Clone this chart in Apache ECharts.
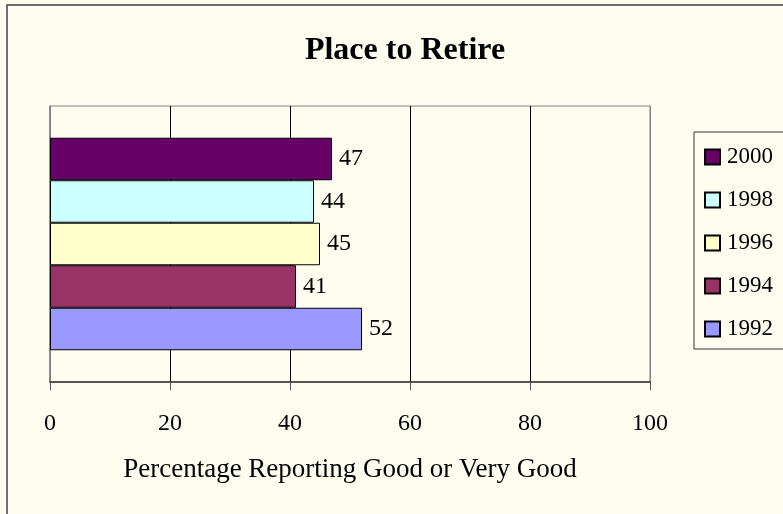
<!DOCTYPE html>
<html>
<head>
<meta charset="utf-8">
<script src="https://cdn.jsdelivr.net/npm/echarts@6/dist/echarts.min.js"></script>
<style>
  html, body { margin: 0; padding: 0; background: #fffdf0; }
  #chart { width: 783px; height: 514px; }
</style>
</head>
<body>
<div id="chart"></div>
<script>
  // data (top bar first)
  const years = ['2000', '1998', '1996', '1994', '1992']
  const values = [47, 44, 45, 41, 52]
  const colors = ['#660066', '#ccffff', '#ffffcc', '#993366', '#9999ff']
  const xTicks = { min: 0, max: 100, interval: 20 }

  const font = 'Liberation Serif'
  const chart = echarts.init(document.getElementById('chart'))

  const series = years.map((y, i) => ({
    name: y,
    type: 'bar',
    data: [values[i]],
    barGap: '0%',
    barCategoryGap: '23%',
    itemStyle: { color: colors[i], borderColor: '#000', borderWidth: 1 },
    label: {
      show: true,
      position: 'right',
      distance: 7,
      color: '#000',
      fontFamily: font,
      fontSize: 24,
    },
  }))

  chart.setOption({
    backgroundColor: '#fffdf0',
    animation: false,
    title: {
      text: 'Place to Retire',
      left: 400,
      top: 30,
      textAlign: 'center',
      textStyle: { fontFamily: font, fontSize: 32, fontWeight: 'bold', color: '#000' },
    },
    graphic: [{
      type: 'rect',
      shape: { x: 7, y: 5, width: 800, height: 540 },
      style: { fill: null, stroke: '#404040', lineWidth: 1.5 },
      silent: true,
    }],
    legend: {
      orient: 'vertical',
      left: 694,
      top: 132,
      data: years,
      icon: 'rect',
      itemWidth: 15,
      itemHeight: 15,
      itemGap: 19,
      padding: [13, 25, 8, 10],
      borderColor: '#333',
      borderWidth: 1,
      textStyle: { fontFamily: font, fontSize: 23, lineHeight: 24, color: '#000', padding: [0, 0, 0, 2] },
    },
    grid: {
      left: 50,
      right: 133,
      top: 106,
      bottom: 132,
      show: true,
      borderColor: '#808080',
      borderWidth: 1,
    },
    xAxis: {
      type: 'value',
      min: xTicks.min,
      max: xTicks.max,
      interval: xTicks.interval,
      name: 'Percentage Reporting Good or Very Good',
      nameLocation: 'middle',
      nameGap: 74,
      nameTextStyle: { fontFamily: font, fontSize: 27, color: '#000' },
      axisLine: { show: true, lineStyle: { color: '#333', width: 1.5 } },
      axisTick: { show: true, length: 8, lineStyle: { color: '#555' } },
      axisLabel: { margin: 30, fontFamily: font, fontSize: 24, color: '#000' },
      splitLine: {
        show: true,
        lineStyle: { color: ['#808080', '#000', '#000', '#000', '#000', '#808080'], width: 1 },
      },
    },
    yAxis: {
      type: 'category',
      data: [''],
      axisLine: { show: true, lineStyle: { color: '#808080', width: 1.5 } },
      axisTick: { show: false },
      axisLabel: { show: false },
    },
    series: series,
  })
</script>
</body>
</html>
